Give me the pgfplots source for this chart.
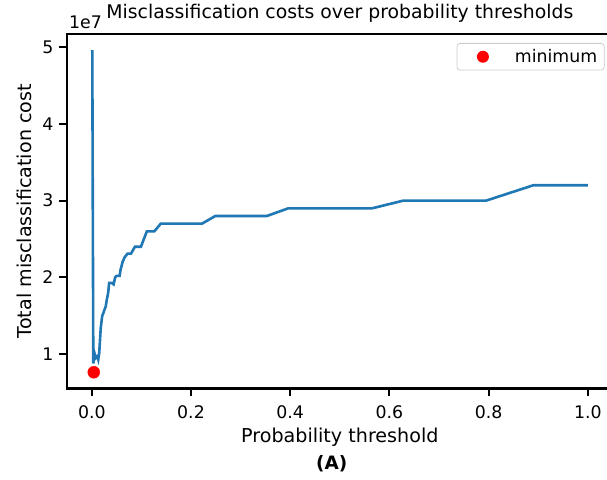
\documentclass[border=0pt]{standalone}
\usepackage{fontspec}
\setmainfont{DejaVu Sans}
\usepackage{pgfplots}
\pgfplotsset{compat=1.18}
\definecolor{mplblue}{RGB}{31,119,180}
\newcommand{\tickfont}{\fontsize{17.4}{21}\selectfont}
\newcommand{\labfont}{\fontsize{19.2}{23}\selectfont}

\begin{document}
\begin{tikzpicture}
\begin{axis}[
    name=ax,
    scale only axis,
    width=545.6bp, height=354.4bp,
    xmin=-0.05, xmax=1.05,
    ymin=0.555e7, ymax=5.17e7,
    clip=false,
    axis line style={line width=2.2bp},
    tick align=outside, tick pos=left,
    major tick length=8bp,
    tick style={line width=2bp, black},
    xtick={0,0.2,0.4,0.6,0.8,1.0},
    xticklabels={0.0,0.2,0.4,0.6,0.8,1.0},
    ytick={1e7,2e7,3e7,4e7,5e7},
    yticklabels={1,2,3,4,5},
    scaled y ticks=false,
    /pgf/number format/assume math mode=true,
    ticklabel style={font=\tickfont},
    xticklabel style={yshift=-6bp},
    yticklabel style={xshift=-2bp},
    xlabel={Probability threshold},
    ylabel={Total misclassification cost},
    label style={font=\labfont},
    xlabel style={at={(axis description cs:0.5,0)}, anchor=base, yshift=-54bp},
    ylabel style={at={(axis description cs:0,0.5)}, anchor=base, yshift=35.5bp},
    title={Misclassification costs over probability thresholds},
    title style={font=\fontsize{18.9}{23}\selectfont, at={(axis description cs:0.5,1)}, anchor=base, yshift=10bp},
    legend style={at={(1,1)}, anchor=north east, xshift=-8bp, yshift=-9bp,
        draw=black!20, line width=0.8bp, rounded corners=3bp, fill=white,
        font=\tickfont, inner xsep=7bp, inner ysep=6bp,
        nodes={inner sep=0pt}, cells={anchor=west}},
    legend image code/.code={\path[draw=none, fill=none] (0bp,0bp) rectangle (51bp,0bp);
        \fill[red, draw=none] (19bp,0bp) circle (6bp);},
]
\addplot[mplblue, line width=2.6bp, forget plot] coordinates {
    (0.001,4.96e7) (0.003,0.88e7) (0.006,1.00e7) (0.008,0.95e7)
    (0.011,0.97e7) (0.013,0.93e7) (0.015,1.02e7) (0.018,1.34e7)
    (0.021,1.50e7) (0.023,1.53e7) (0.025,1.57e7) (0.028,1.62e7)
    (0.030,1.70e7) (0.033,1.80e7) (0.035,1.93e7) (0.040,1.93e7)
    (0.044,1.91e7) (0.047,2.00e7) (0.050,2.02e7) (0.056,2.02e7)
    (0.058,2.10e7) (0.062,2.20e7) (0.066,2.26e7) (0.072,2.31e7)
    (0.079,2.31e7) (0.087,2.40e7) (0.099,2.40e7) (0.111,2.60e7)
    (0.126,2.60e7) (0.139,2.70e7) (0.222,2.70e7) (0.249,2.80e7)
    (0.353,2.80e7) (0.396,2.90e7) (0.565,2.90e7) (0.628,3.00e7)
    (0.795,3.00e7) (0.890,3.20e7) (1.000,3.20e7)
};
\addplot[only marks, mark=*, mark size=6bp, red, mark options={draw=red, fill=red}]
    coordinates {(0.004,0.765e7)};
\addlegendentry{minimum}
\node[anchor=base west, font=\tickfont, inner sep=0pt] at (rel axis cs:0,1) [xshift=2bp, yshift=5bp] {1e7};
\node[anchor=base, font=\fontsize{18.5}{22}\selectfont\bfseries, inner sep=0pt] at (rel axis cs:0.5,0) [xshift=-8bp, yshift=-81bp] {(A)};
\end{axis}
\pgfresetboundingbox
\path[use as bounding box] ([xshift=-67bp,yshift=-91bp]ax.south west) rectangle ([xshift=540bp,yshift=34bp]ax.north west);
\end{tikzpicture}
\end{document}
